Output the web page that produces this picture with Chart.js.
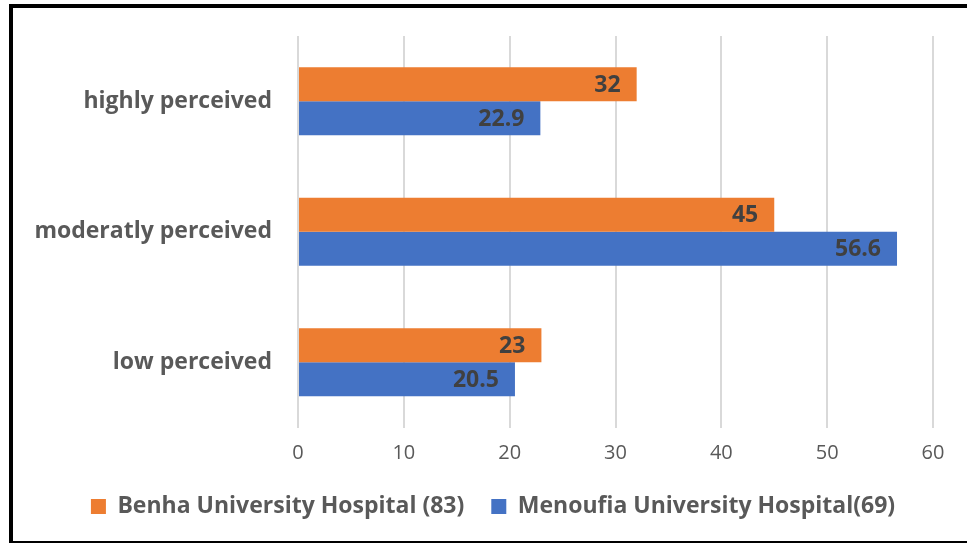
<!DOCTYPE html>
<html>
<head>
<meta charset="utf-8">
<script src="https://cdn.jsdelivr.net/npm/chart.js@4/dist/chart.umd.min.js"></script>
<style>
html,body{margin:0;padding:0;background:#fff;width:967px;height:545px;overflow:hidden;}
#frame{position:absolute;left:9px;top:4px;width:958px;height:539px;border-left:4px solid #000;border-top:4px solid #000;border-bottom:2px solid #000;box-sizing:border-box;}
#wrap{position:absolute;left:13px;top:8px;width:954px;height:533px;}
</style>
</head>
<body>
<div id="frame"></div>
<div id="wrap"><canvas id="c" width="954" height="533"></canvas></div>
<script>
const categories = ['highly perceived', 'moderatly perceived', 'low perceived'];
const benha = [32, 45, 23];
const menoufia = [22.9, 56.6, 20.5];
const seriesNames = ['Benha University Hospital (83)', 'Menoufia University Hospital(69)'];
const xTicks = [0, 10, 20, 30, 40, 50, 60];

const FONT = '"Open Sans", sans-serif';

const valueLabels = {
  id: 'valueLabels',
  afterLayout(chart) {
    // centre the legend under the whole frame, as in the reference
    if (chart.legend) {
      chart.legend.left += 20; chart.legend.right += 20;
      chart.legend.top -= 3; chart.legend.bottom -= 3;
    }
  },
  afterDatasetsDraw(chart) {
    const ctx = chart.ctx;
    ctx.save();
    ctx.font = 'bold 23px ' + FONT;
    ctx.fillStyle = '#404040';
    ctx.textAlign = 'right';
    ctx.textBaseline = 'middle';
    chart.data.datasets.forEach((ds, i) => {
      const meta = chart.getDatasetMeta(i);
      meta.data.forEach((bar, j) => {
        ctx.fillText(String(ds.data[j]), bar.x - 16, bar.y + 1);
      });
    });
    ctx.restore();
  }
};

new Chart(document.getElementById('c'), {
  type: 'bar',
  data: {
    labels: categories,
    datasets: [
      { label: seriesNames[0], data: benha, backgroundColor: '#ED7D31' },
      { label: seriesNames[1], data: menoufia, backgroundColor: '#4472C4' }
    ]
  },
  options: {
    indexAxis: 'y',
    responsive: false,
    animation: false,
    layout: { padding: { top: 28, right: 34, bottom: 10, left: 0 } },
    datasets: { bar: { categoryPercentage: 0.52, barPercentage: 1.0 } },
    scales: {
      x: {
        min: 0, max: 60,
        afterBuildTicks(scale) { scale.ticks = xTicks.map(v => ({ value: v })); },
        afterFit(scale) { scale.height = 43.5; },
        grid: { color: '#d9d9d9', lineWidth: 2, drawTicks: false },
        border: { display: false },
        ticks: { color: '#595959', font: { family: FONT, size: 20 }, padding: 14 }
      },
      y: {
        afterFit(scale) { scale.width = 285; },
        grid: { drawOnChartArea: false, drawTicks: true, tickLength: 26, tickColor: 'rgba(0,0,0,0)' },
        border: { display: false },
        ticks: { color: '#595959', font: { family: FONT, size: 23, weight: 'bold' }, padding: 0 }
      }
    },
    plugins: {
      legend: {
        position: 'bottom',
        labels: {
          color: '#595959',
          font: { family: FONT, size: 23, weight: 'bold' },
          boxWidth: 15, boxHeight: 15, padding: 27
        }
      },
      tooltip: { enabled: false }
    }
  },
  plugins: [valueLabels]
});
</script>
</body>
</html>
